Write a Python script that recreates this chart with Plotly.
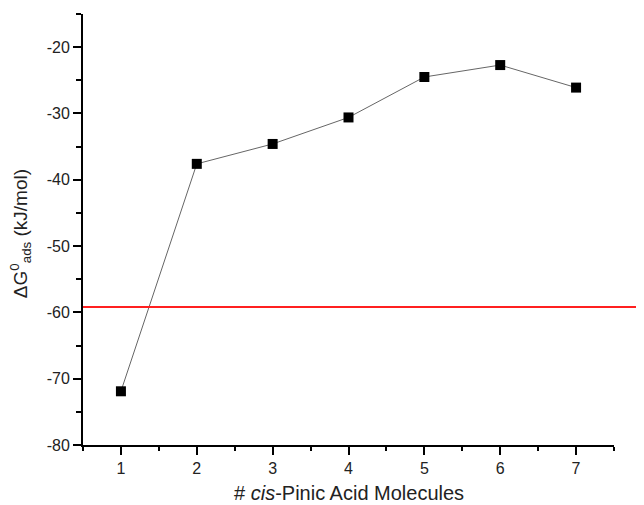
import plotly.graph_objects as go

molecules = [1, 2, 3, 4, 5, 6, 7]
delta_g = [-71.9, -37.6, -34.6, -30.6, -24.5, -22.7, -26.1]
reference_level = -59.2
x_ticks = [1, 2, 3, 4, 5, 6, 7]
y_ticks = [-80, -70, -60, -50, -40, -30, -20]

fig = go.Figure()
fig.add_trace(go.Scatter(
    x=molecules, y=delta_g, mode="lines+markers",
    line=dict(color="#666666", width=1),
    marker=dict(symbol="square", size=10, color="black"),
    showlegend=False,
))

fig.add_shape(type="line", xref="paper", yref="y", x0=0, x1=1.06,
              y0=reference_level, y1=reference_level,
              line=dict(color="#ff2020", width=2))

font_family = "Liberation Sans, Arial, sans-serif"
# page body has an 8px default margin; figure sized to fit the 644x505 window
fig.update_layout(
    width=636, height=497,
    margin=dict(l=75, r=30, t=6, b=59.5, autoexpand=False),
    plot_bgcolor="white", paper_bgcolor="white",
    font=dict(family=font_family, color="#222222", size=16),
    xaxis=dict(
        range=[0.5, 7.5], tickvals=x_ticks, ticktext=[str(v) for v in x_ticks],
        showgrid=False, zeroline=False, automargin=False,
        showline=True, linecolor="black", linewidth=2, mirror=False,
        ticks="outside", ticklen=8, tickwidth=2, tickcolor="black",
        minor=dict(ticks="outside", ticklen=4, tickwidth=2, tickcolor="black", dtick=0.5, tick0=0.5),
        tickfont=dict(size=16),
    ),
    yaxis=dict(
        range=[-80, -15], tickvals=y_ticks, ticktext=[str(v) for v in y_ticks],
        showgrid=False, zeroline=False, automargin=False,
        showline=True, linecolor="black", linewidth=2,
        ticks="outside", ticklen=8, tickwidth=2, tickcolor="black",
        minor=dict(ticks="outside", ticklen=5, tickwidth=2, tickcolor="black", dtick=5, tick0=-80),
        tickfont=dict(size=16),
    ),
    annotations=[
        dict(text="# <i>cis</i>-Pinic Acid Molecules", xref="paper", yref="paper",
             x=0.5, y=-0.112, xanchor="center", yanchor="middle", showarrow=False,
             font=dict(size=20, color="#222222")),
        dict(text="ΔG<sup>0</sup><sub>ads</sub> (kJ/mol)", xref="paper", yref="paper",
             x=-0.118, y=0.49, xanchor="center", yanchor="middle", showarrow=False,
             textangle=-90, font=dict(size=19, color="#222222")),
    ],
)

fig.write_html("out.html")
